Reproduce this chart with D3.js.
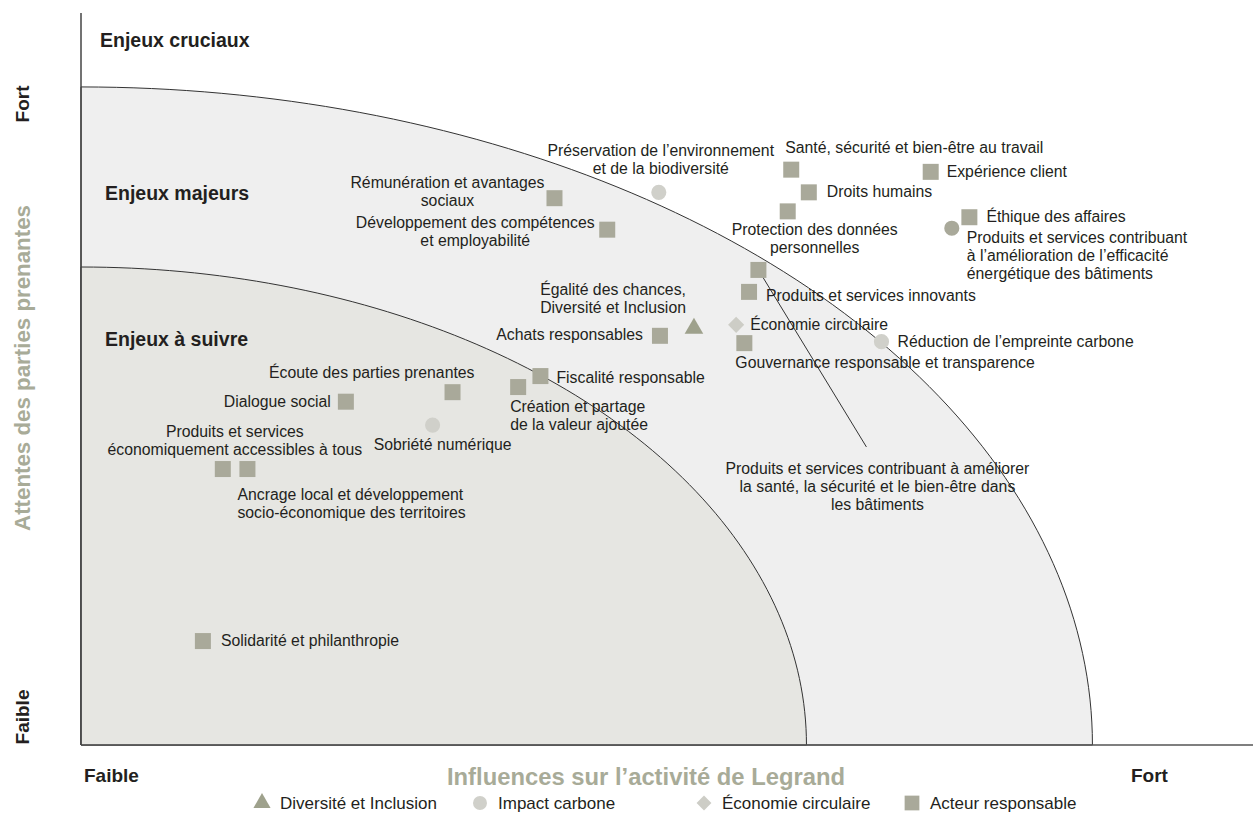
<!DOCTYPE html>
<html>
<head>
<meta charset="utf-8">
<script src="https://cdn.jsdelivr.net/npm/d3@7"></script>
<style>
  body { margin: 0; background: #fff; }
  svg { display: block; font-family: "Liberation Sans", Arial, sans-serif; }
</style>
</head>
<body>
<svg id="chart"></svg>
<script>
// Canvas
const width = 1253;
const height = 836;

// Issues (name, influence on the business, stakeholder expectations, theme)
const issueNames = [
    "Santé, sécurité et bien-être au travail",
    "Expérience client",
    "Droits humains",
    "Protection des données\npersonnelles",
    "Éthique des affaires",
    "Rémunération et avantages\nsociaux",
    "Développement des compétences\net employabilité",
    "Produits et services contribuant à améliorer\nla santé, la sécurité et le bien-être dans\nles bâtiments",
    "Produits et services innovants",
    "Achats responsables",
    "Gouvernance responsable et transparence",
    "Fiscalité responsable",
    "Création et partage\nde la valeur ajoutée",
    "Écoute des parties prenantes",
    "Dialogue social",
    "Produits et services\néconomiquement accessibles à tous",
    "Ancrage local et développement\nsocio-économique des territoires",
    "Solidarité et philanthropie",
    "Préservation de l’environnement\net de la biodiversité",
    "Produits et services contribuant\nà l’amélioration de l’efficacité\nénergétique des bâtiments",
    "Réduction de l’empreinte carbone",
    "Sobriété numérique",
    "Égalité des chances,\nDiversité et Inclusion",
    "Économie circulaire"
];
const influence = [60.6, 72.5, 62.1, 60.3, 75.8, 40.4, 44.9, 57.8, 57.0, 49.4, 56.6, 39.2, 37.3, 31.7, 22.6, 12.1, 14.2, 10.4, 49.3, 74.3, 68.3, 30.0, 52.3, 55.9];
const expectations = [78.6, 78.3, 75.5, 72.9, 72.1, 74.7, 70.4, 64.9, 61.9, 55.9, 54.9, 50.4, 48.9, 48.2, 46.9, 37.7, 37.7, 14.2, 75.5, 70.6, 55.1, 43.7, 56.9, 57.4];
const issueTheme = [
    "Acteur responsable", "Acteur responsable", "Acteur responsable", "Acteur responsable",
    "Acteur responsable", "Acteur responsable", "Acteur responsable", "Acteur responsable",
    "Acteur responsable", "Acteur responsable", "Acteur responsable", "Acteur responsable",
    "Acteur responsable", "Acteur responsable", "Acteur responsable", "Acteur responsable",
    "Acteur responsable", "Acteur responsable",
    "Impact carbone", "Impact carbone", "Impact carbone", "Impact carbone",
    "Diversité et Inclusion", "Économie circulaire"
];

// Themes (legend)
const themes = ["Diversité et Inclusion", "Impact carbone", "Économie circulaire", "Acteur responsable"];

// Zones (quarter ellipses, in axis units)
const zoneNames = ["Enjeux à suivre", "Enjeux majeurs", "Enjeux cruciaux"];
const zoneRadiusX = [61.9, 86.3];
const zoneRadiusY = [65.3, 89.9];

// Axis labels
const xTitle = "Influences sur l’activité de Legrand";
const yTitle = "Attentes des parties prenantes";
const axisEnds = ["Faible", "Fort"];

// ---- styling / layout ----
const themeColor = {
    "Diversité et Inclusion": "#9ea18c",
    "Impact carbone": "#d0d0ca",
    "Économie circulaire": "#cdcdc6",
    "Acteur responsable": "#a9a99a"
};
const themeShape = {
    "Diversité et Inclusion": d3.symbolTriangle,
    "Impact carbone": d3.symbolCircle,
    "Économie circulaire": d3.symbolSquare, // drawn rotated -> diamond
    "Acteur responsable": d3.symbolSquare
};
const themeSize = {
    "Diversité et Inclusion": 150,
    "Impact carbone": 180,
    "Économie circulaire": 130,
    "Acteur responsable": 256
};
const themeRotate = { "Économie circulaire": 45 };
// one carbon point drawn darker
const markerOverride = { 19: "#a9a99a" };

// label placement: [dx, dy of first baseline, anchor]
const labelPlace = [
    [-6, -17, "start"], [16, 5, "start"], [18, 5, "start"], [27, 24, "middle"],
    [17, 5, "start"], [-107, -10, "middle"], [-132, -2, "middle"], [119, 204, "middle"],
    [17, 9, "start"], [-17, 4, "end"], [-9, 25, "start"], [16, 7, "start"],
    [-8, 25, "start"], [22, -14, "end"], [-15, 5, "end"], [12, -32, "middle"],
    [-10, 31, "start"], [18, 5, "start"],
    [2, -36, "middle"], [15, 15, "start"], [16, 5, "start"], [10, 25, "middle"],
    [-8, -33, "end"], [14, 5, "start"]
];
const leaderLine = { 7: [108, 177] };

const margin = { left: 81, right: 0, top: 13, bottom: 91 };

const svg = d3.select("#chart")
    .attr("width", width)
    .attr("height", height);

const x = d3.scaleLinear().domain([0, 100]).range([margin.left, width - margin.right]);
const y = d3.scaleLinear().domain([0, 100]).range([height - margin.bottom, margin.top]);

// Zones - outer first
const zoneFill = ["#e6e6e2", "#efefef"];
const ellipse = (rx, ry) => {
    const pts = [[0, 0]].concat(d3.range(0, 91).map(a => {
        const t = a * Math.PI / 180;
        return [rx * Math.cos(t), ry * Math.sin(t)];
    }));
    return d3.line().x(d => x(d[0])).y(d => y(d[1]))(pts) + "Z";
};
const zoneIdx = d3.range(zoneRadiusX.length).reverse();
svg.append("g")
    .selectAll("path")
    .data(zoneIdx)
    .enter().append("path")
    .attr("d", i => ellipse(zoneRadiusX[i], zoneRadiusY[i]))
    .attr("fill", i => zoneFill[i])
    .attr("stroke", "#333")
    .attr("stroke-width", 1);

// Axes (plain lines, no ticks)
svg.append("line")
    .attr("x1", x(0)).attr("x2", x(100))
    .attr("y1", y(0)).attr("y2", y(0))
    .attr("stroke", "#555").attr("stroke-width", 1.5);
svg.append("line")
    .attr("x1", x(0)).attr("x2", x(0))
    .attr("y1", y(0)).attr("y2", y(100))
    .attr("stroke", "#444").attr("stroke-width", 1.5);

// Zone titles
const zoneLabelPos = [[105, 346], [105, 200], [100, 47]];
svg.append("g")
    .selectAll("text")
    .data(zoneNames)
    .enter().append("text")
    .attr("x", (d, i) => zoneLabelPos[i][0])
    .attr("y", (d, i) => zoneLabelPos[i][1])
    .attr("font-size", 19.5)
    .attr("font-weight", "bold")
    .attr("fill", "#231f20")
    .text(d => d);

// Leader lines
const issues = issueNames.map((name, i) => ({
    i, name, x: influence[i], y: expectations[i], theme: issueTheme[i]
}));
svg.append("g")
    .selectAll("line")
    .data(issues.filter(d => leaderLine[d.i]))
    .enter().append("line")
    .attr("x1", d => x(d.x)).attr("y1", d => y(d.y))
    .attr("x2", d => x(d.x) + leaderLine[d.i][0])
    .attr("y2", d => y(d.y) + leaderLine[d.i][1])
    .attr("stroke", "#333").attr("stroke-width", 1);

// Markers
svg.append("g")
    .selectAll("path")
    .data(issues)
    .enter().append("path")
    .attr("transform", d => `translate(${x(d.x)},${y(d.y)}) rotate(${themeRotate[d.theme] || 0})`)
    .attr("d", d => d3.symbol(themeShape[d.theme], themeSize[d.theme])())
    .attr("fill", d => markerOverride[d.i] || themeColor[d.theme]);

// Labels
const label = svg.append("g")
    .selectAll("text")
    .data(issues)
    .enter().append("text")
    .attr("x", d => x(d.x) + labelPlace[d.i][0])
    .attr("y", d => y(d.y) + labelPlace[d.i][1])
    .attr("text-anchor", d => labelPlace[d.i][2])
    .attr("font-size", 15.8)
    .attr("fill", "#231f20");
label.selectAll("tspan")
    .data(d => d.name.split("\n").map(t => ({ t, d })))
    .enter().append("tspan")
    .attr("x", p => x(p.d.x) + labelPlace[p.d.i][0])
    .attr("dy", (p, k) => k === 0 ? 0 : 18)
    .text(p => p.t);

// Axis end labels
const endStyle = sel => sel.attr("font-size", 19).attr("font-weight", "bold").attr("fill", "#231f20");
svg.append("text").attr("x", 84).attr("y", 782).call(endStyle).text(axisEnds[0]);
svg.append("text").attr("x", 1131).attr("y", 782).call(endStyle).text(axisEnds[1]);
svg.append("text").attr("transform", "translate(29,717) rotate(-90)")
    .attr("text-anchor", "middle").call(endStyle).text(axisEnds[0]);
svg.append("text").attr("transform", "translate(29,104) rotate(-90)")
    .attr("text-anchor", "middle").call(endStyle).text(axisEnds[1]);

// Axis titles
svg.append("text").attr("x", 646).attr("y", 785)
    .attr("text-anchor", "middle")
    .attr("font-size", 23.8).attr("font-weight", "bold").attr("fill", "#a8ab98")
    .text(xTitle);
svg.append("text").attr("transform", "translate(30,368) rotate(-90)")
    .attr("text-anchor", "middle")
    .attr("font-size", 22.3).attr("font-weight", "bold").attr("fill", "#a8ab98")
    .text(yTitle);

// Legend
const legendX = [262, 480, 704, 912];
const legend = svg.append("g")
    .selectAll("g")
    .data(themes)
    .enter().append("g")
    .attr("transform", (d, i) => `translate(${legendX[i]},803)`);
legend.append("path")
    .attr("transform", d => `rotate(${themeRotate[d] || 0})`)
    .attr("d", d => d3.symbol(themeShape[d], themeSize[d] * 0.85)())
    .attr("fill", d => themeColor[d]);
legend.append("text")
    .attr("x", 18).attr("y", 6)
    .attr("font-size", 17)
    .attr("font-family", "'Liberation Sans Narrow', 'Liberation Sans', Arial, sans-serif")
    .attr("fill", "#231f20")
    .text(d => d);
</script>
</body>
</html>
